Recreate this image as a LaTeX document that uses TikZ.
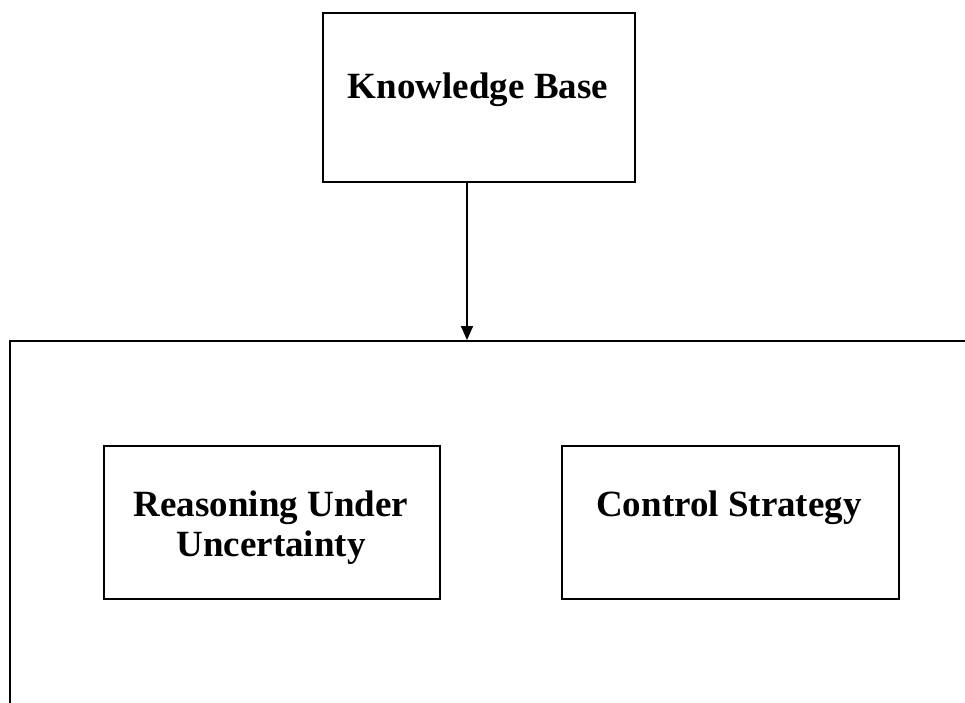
\documentclass[tikz,border=0pt]{standalone}
\usepackage{fontspec}
\setmainfont{Liberation Serif}
\usetikzlibrary{arrows.meta}
\begin{document}
\begin{tikzpicture}[x=1pt,y=-1pt,
  frame/.style={draw=black,line width=1.7pt,rectangle,inner sep=0pt},
  lbl/.style={inner sep=0pt,align=center,font=\fontsize{37}{40}\selectfont\bfseries},
  conn/.style={draw=black,line width=1.7pt,-{Triangle[length=14pt,width=12pt]}}]
\useasboundingbox (0,0) rectangle (965,702);
\clip (0,0) rectangle (965,702);
\node[frame,minimum width=312pt,minimum height=169pt,anchor=north west] (kb) at (322,12) {};
\node[lbl] (kbt) at (478,90) {Knowledge Base};
\node[frame,minimum width=1000pt,minimum height=500pt,anchor=north west] (outer) at (9,340) {};
\node[frame,minimum width=336pt,minimum height=153pt,anchor=north west] (rea) at (103,445) {};
\node[lbl] (reat) at (271,528) {Reasoning Under\\Uncertainty};
\node[frame,minimum width=337pt,minimum height=153pt,anchor=north west] (ctl) at (561,445) {};
\node[lbl] (ctlt) at (729,508) {Control Strategy};
\coordinate (armx) at (467,0);
\draw[conn] (armx |- kb.south) -- (armx |- outer.north);
\end{tikzpicture}
\end{document}
